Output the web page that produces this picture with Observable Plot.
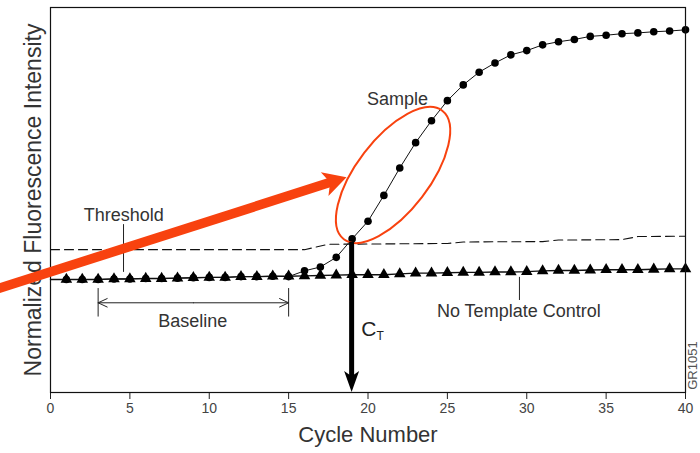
<!DOCTYPE html>
<html>
<head>
<meta charset="utf-8">
<script src="https://cdn.jsdelivr.net/npm/d3@7"></script>
<script src="https://cdn.jsdelivr.net/npm/@observablehq/plot@0.6"></script>
<style>
  body { margin: 0; background: #fff; }
  #chart svg { display: block; }
</style>
</head>
<body>
<div id="chart"></div>
<script>
// ---- Data (cycle number vs normalized fluorescence, arbitrary units 0-100) ----
const cycles = [0,1,2,3,4,5,6,7,8,9,10,11,12,13,14,15,16,17,18,19,20,21,22,23,24,25,26,27,28,29,30,31,32,33,34,35,36,37,38,39,40];
const sampleValues = [29.35,29.35,29.35,29.35,29.5,29.5,29.6,29.6,29.7,29.8,29.9,29.9,30.1,30.1,30.2,30.1,
  31.6,32.6,35.1,39.9,44.5,51.2,58.3,64.9,70.6,75.8,79.9,83.2,85.6,87.7,88.8,90.3,91.1,91.7,92.5,92.8,93.2,93.4,93.7,93.9,94.2];
const ntcValues = [29.35,29.35,29.35,29.35,29.5,29.5,29.6,29.6,29.7,29.8,29.9,29.9,30.1,30.1,30.2,30.2,
  30.3,30.4,30.5,30.6,30.6,30.6,30.8,31.0,31.0,31.1,31.2,31.2,31.3,31.3,31.4,31.6,31.7,31.7,31.8,31.9,31.9,31.9,32.0,32.1,32.1];
const thresholdCycles = [0, 16, 17.5, 25, 26, 31, 32, 36, 37, 40];
const thresholdValues = [37.1, 37.1, 38.5, 38.7, 39.1, 39.2, 39.6, 39.7, 40.5, 40.6];
const xTicks = [0, 5, 10, 15, 20, 25, 30, 35, 40];
const ctCycle = 19;
const ctValue = 39.0;
const baselineStart = 3, baselineEnd = 15;

// annotations (data coordinates)
const labels = [
  {text: "Threshold", x: 4.62, y: 46.0},
  {text: "Sample", x: 21.86, y: 76.05},
  {text: "Baseline", x: 8.96, y: 18.4},
  {text: "No Template Control", x: 29.5, y: 21.0}
];
const leaders = [
  {x: 4.6, y1: 43.6, y2: 31.2},
  {x: 29.54, y1: 29.9, y2: 23.9}
];
const redArrow = {x1: -4, y1: 25.88, x2: 18.68, y2: 55.8};
const ctArrow = {x1: ctCycle, y1: ctValue, x2: ctCycle, y2: 0};
const ellipseAxis = {x1: 18.51, y1: 39.66, x2: 24.71, y2: 73.06};

const sample = cycles.map((c, i) => ({cycle: c, value: sampleValues[i]}));
const ntc = cycles.map((c, i) => ({cycle: c, value: ntcValues[i]}));
const threshold = thresholdCycles.map((c, i) => ({cycle: c, value: thresholdValues[i]}));

const RED = "#f8420f";
const FONT = "'Liberation Sans', Arial, Helvetica, sans-serif";

const ellipseMark = (index, scales) => {
  const x1 = scales.x(ellipseAxis.x1), y1 = scales.y(ellipseAxis.y1);
  const x2 = scales.x(ellipseAxis.x2), y2 = scales.y(ellipseAxis.y2);
  const cx = (x1 + x2) / 2, cy = (y1 + y2) / 2;
  const rx = Math.hypot(x2 - x1, y2 - y1) / 2;
  const ang = Math.atan2(y2 - y1, x2 - x1) * 180 / Math.PI;
  const g = d3.create("svg:g");
  g.append("ellipse")
    .attr("cx", cx).attr("cy", cy).attr("rx", rx).attr("ry", 36.4)
    .attr("transform", `rotate(${ang} ${cx} ${cy})`)
    .attr("fill", "none").attr("stroke", RED).attr("stroke-width", 2);
  return g.node();
};

// solid arrow with a filled head, positioned through the plot's scales
const solidArrow = (spec, color, width, headLen, headHalf) => (index, scales) => {
  const x1 = scales.x(spec.x1), y1 = scales.y(spec.y1);
  const x2 = scales.x(spec.x2), y2 = scales.y(spec.y2);
  const L = Math.hypot(x2 - x1, y2 - y1);
  const ux = (x2 - x1) / L, uy = (y2 - y1) / L;
  const bx = x2 - ux * headLen, by = y2 - uy * headLen;
  const g = d3.create("svg:g");
  g.append("line")
    .attr("x1", x1).attr("y1", y1)
    .attr("x2", x2 - ux * headLen * 0.7).attr("y2", y2 - uy * headLen * 0.7)
    .attr("stroke", color).attr("stroke-width", width);
  g.append("path")
    .attr("d", `M${x2},${y2}L${bx - uy * headHalf},${by + ux * headHalf}L${x2 - ux * headLen * 0.75},${y2 - uy * headLen * 0.75}L${bx + uy * headHalf},${by - ux * headHalf}Z`)
    .attr("fill", color);
  return g.node();
};

const chart = Plot.plot({
  width: 700,
  height: 453,
  marginLeft: 50,
  marginRight: 15,
  marginTop: 7,
  marginBottom: 61,
  x: {domain: [0, 40], label: null},
  y: {domain: [0, 100], axis: null},
  style: {fontFamily: FONT, background: "#fff", color: "#222", overflow: "visible"},
  marks: [
    Plot.axisX({ticks: xTicks, tickSize: 7, tickPadding: 4, fontSize: 14, color: "#444", stroke: "#222", label: null}),
    Plot.line(threshold, {x: "cycle", y: "value", stroke: "#111", strokeWidth: 1.1, strokeDasharray: "9,5"}),
    Plot.line(ntc, {x: "cycle", y: "value", stroke: "#111", strokeWidth: 1.4}),
    Plot.line(sample, {x: "cycle", y: "value", stroke: "#111", strokeWidth: 1}),
    Plot.dot(ntc.filter(d => d.cycle >= 1), {x: "cycle", y: "value", symbol: "triangle", r: 4.3, fill: "#000", stroke: "none"}),
    Plot.dot(sample.filter(d => d.cycle >= 1), {x: "cycle", y: "value", symbol: "circle", r: 3.8, fill: "#000", stroke: "none"}),
    Plot.frame({stroke: "#111", strokeWidth: 1.2}),
    // leader lines
    Plot.ruleX(leaders, {x: "x", y1: "y1", y2: "y2", stroke: "#222", strokeWidth: 1}),
    // baseline bracket
    Plot.ruleX([baselineStart, baselineEnd], {x: d => d, y1: 27.0, y2: 19.6, stroke: "#222", strokeWidth: 1}),
    Plot.arrow([{a: (baselineStart + baselineEnd) / 2, b: baselineStart}, {a: (baselineStart + baselineEnd) / 2, b: baselineEnd}],
      {x1: "a", x2: "b", y1: 23.3, y2: 23.3, stroke: "#222", strokeWidth: 1, headLength: 15, headAngle: 50}),
    // text labels
    Plot.text(labels, {x: "x", y: "y", text: "text", fontSize: 18, fill: "#333"}),
    Plot.text(["C"], {x: 19.57, y: 16.5, text: d => d, fontSize: 21, fill: "#222", textAnchor: "start"}),
    Plot.text(["T"], {x: 20.54, y: 14.7, text: d => d, fontSize: 12, fill: "#222", textAnchor: "start"}),
    Plot.text(["GR1051"], {x: 40.44, y: 7.0, text: d => d, fontSize: 13, fill: "#555", rotate: -90}),
    Plot.text(["Normalized Fluorescence Intensity"], {frameAnchor: "left", textAnchor: "middle", dx: -16.4, rotate: -90, text: d => d, fontSize: 23, fill: "#333"}),
    Plot.text(["Cycle Number"], {frameAnchor: "bottom", textAnchor: "middle", dy: 49, text: d => d, fontSize: 22, fill: "#333"}),
    ellipseMark,
    solidArrow(ctArrow, "#000", 5, 21, 7.5),
    solidArrow(redArrow, RED, 9.5, 23, 12.5)
  ]
});
document.getElementById("chart").append(chart);
</script>
</body>
</html>
